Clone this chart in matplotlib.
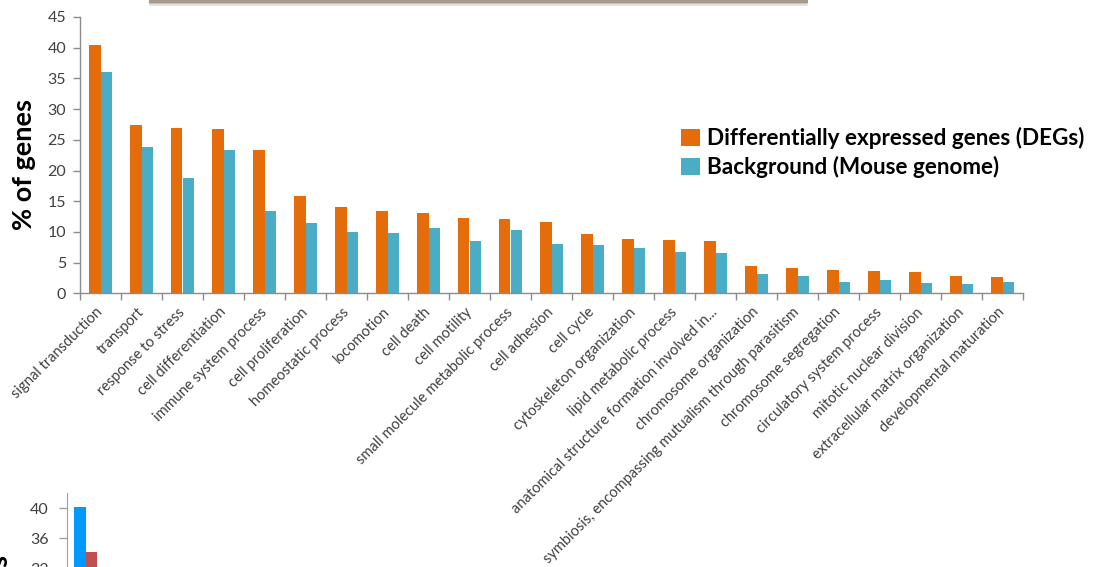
import matplotlib
matplotlib.use("Agg")
import matplotlib.pyplot as plt
from matplotlib.lines import Line2D
from matplotlib.patches import Patch
import numpy as np

plt.rcParams['font.family'] = ['Lato', 'DejaVu Sans']

categories = [
    "signal transduction", "transport", "response to stress",
    "cell differentiation", "immune system process", "cell proliferation",
    "homeostatic process", "locomotion", "cell death", "cell motility",
    "small molecule metabolic process", "cell adhesion", "cell cycle",
    "cytoskeleton organization", "lipid metabolic process",
    "anatomical structure formation involved in...", "chromosome organization",
    "symbiosis, encompassing mutualism through parasitism",
    "chromosome segregation", "circulatory system process",
    "mitotic nuclear division", "extracellular matrix organization",
    "developmental maturation",
]
degs = [40.4, 27.4, 27.0, 26.8, 23.3, 15.9, 14.1, 13.4, 13.0, 12.2, 12.1, 11.6,
        9.6, 8.9, 8.7, 8.5, 4.5, 4.2, 3.8, 3.6, 3.4, 2.8, 2.7]
background = [36.1, 23.9, 18.7, 23.4, 13.4, 11.4, 10.0, 9.8, 10.6, 8.5, 10.3, 8.0,
              7.9, 7.3, 6.8, 6.6, 3.2, 2.8, 1.8, 2.2, 1.6, 1.5, 1.8]
yticks = [0, 5, 10, 15, 20, 25, 30, 35, 40, 45]

# second panel (only its upper part shows)
panel_b_first = [40.1]
panel_b_second = [34.1]
panel_b_yticks = [32, 36, 40]

ORANGE = "#E46C0A"
TEAL = "#4BACC6"
AXIS_GREY = "#8C8C8C"
TEXT_GREY = "#404040"

W, H = 1107, 567
fig = plt.figure(figsize=(W / 100, H / 100), dpi=100)

def px_axes(x0, y_top, x1, y_bottom):
    return [x0 / W, 1 - y_bottom / H, (x1 - x0) / W, (y_bottom - y_top) / H]

ax = fig.add_axes(px_axes(80, 17, 1023, 293.3))
x = np.arange(len(categories))
bw = 0.28
ax.bar(x - bw / 2, degs, bw, color=ORANGE, label="Differentially expressed genes (DEGs)")
ax.bar(x + bw / 2, background, bw, color=TEAL, label="Background (Mouse genome)")

ax.set_xlim(-0.5, len(categories) - 0.5)
ax.set_ylim(0, 45)
ax.set_yticks(yticks)
ax.set_xticks(x)
ax.set_xticklabels(categories, rotation=45, ha="right", va="center",
                   rotation_mode="anchor", fontsize=10.5, color=TEXT_GREY)
ax.set_xticks(np.arange(-0.5, len(categories)), minor=True)
ax.tick_params(axis="x", which="major", length=0, pad=12)
ax.tick_params(axis="x", which="minor", length=5, color=AXIS_GREY, width=1)
ax.tick_params(axis="y", length=5, color=AXIS_GREY, width=1, pad=5,
               labelsize=11.5, labelcolor=TEXT_GREY)
for side in ("top", "right"):
    ax.spines[side].set_visible(False)
for side in ("left", "bottom"):
    ax.spines[side].set_color(AXIS_GREY)
    ax.spines[side].set_linewidth(1)

fig.text(24 / W, 1 - 165 / H, "% of genes", rotation=90, ha="center", va="center",
         fontsize=19.5, fontweight="bold", color="black")

handles = [Patch(facecolor=ORANGE), Patch(facecolor=TEAL)]
fig.legend(handles, ["Differentially expressed genes (DEGs)", "Background (Mouse genome)"],
           loc="upper left", bbox_to_anchor=(670 / W, 1 - 116 / H),
           frameon=False, prop={"size": 16.2, "weight": "bold"},
           handlelength=0.85, handleheight=0.75, handletextpad=0.3,
           labelspacing=0.3, borderpad=0)

# lower panel, cropped by the figure edge
ax2 = fig.add_axes(px_axes(66.7, 493, 566.7, 808))
ax2.patch.set_visible(False)
x2 = np.arange(len(panel_b_first))
ax2.bar(x2 - bw / 2, panel_b_first, bw, color="#0099FF")
ax2.bar(x2 + bw / 2, panel_b_second, bw, color="#C0504D")
ax2.set_xlim(-0.459, -0.459 + 500 / 41)
ax2.set_ylim(0, 42)
ax2.set_yticks(panel_b_yticks)
ax2.set_xticks([])
ax2.tick_params(axis="y", length=6, color="#A0A0A0", width=1, pad=7,
                labelsize=11.5, labelcolor=TEXT_GREY)
for side in ("top", "right", "bottom"):
    ax2.spines[side].set_visible(False)
ax2.spines["left"].set_color("#A0A0A0")
fig.text(0.5 / W, 1 - 555 / H, "% of genes", rotation=90, ha="center", va="top",
         fontsize=19.5, fontweight="bold", color="black")

# lower edge of a framed box above the chart
for yy, col, lw in [(4.0, "#E6E2DE", 2.0), (2.8, "#C9C1B8", 1.5), (1.2, "#A59A8C", 2.2)]:
    fig.add_artist(Line2D([150 / W, 806 / W], [1 - yy / H, 1 - yy / H],
                          transform=fig.transFigure, color=col, lw=lw))

fig.savefig("out.png", dpi=100)
